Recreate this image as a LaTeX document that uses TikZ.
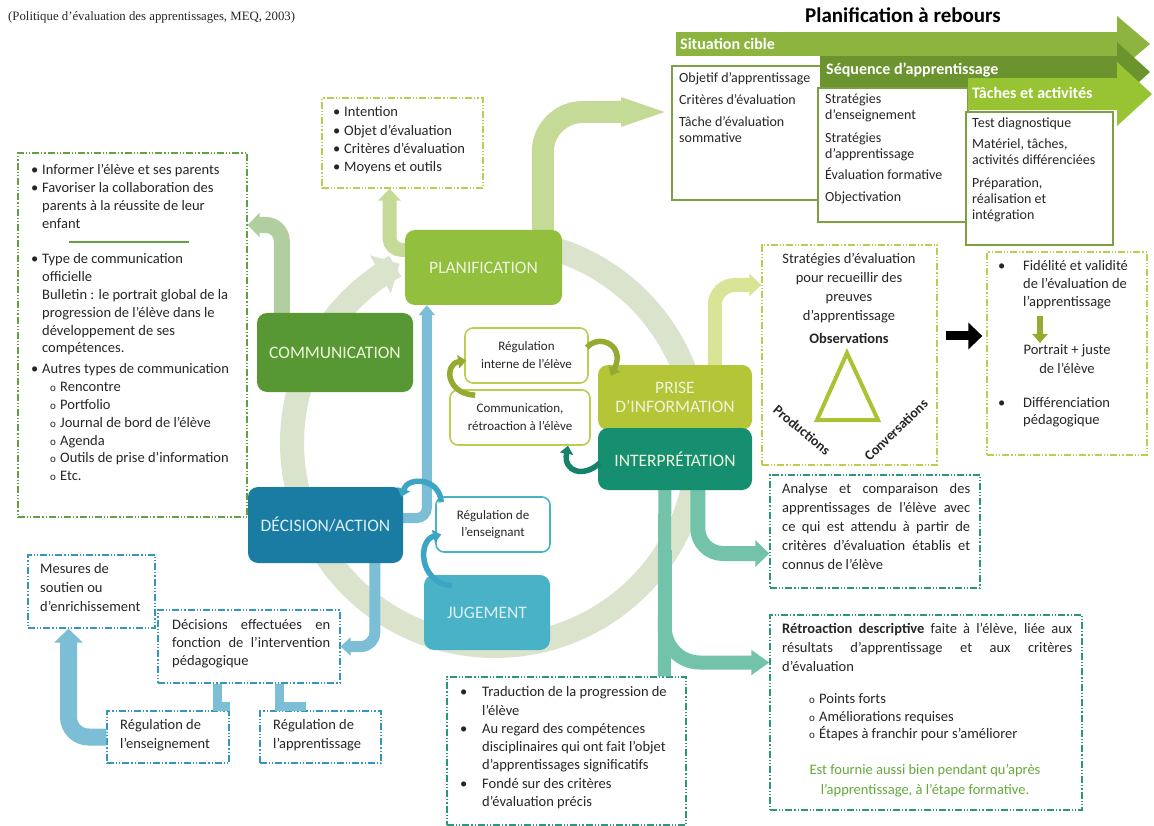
\documentclass[tikz,border=0pt]{standalone}
\usepackage{fontspec}
\setmainfont{Carlito}
\newfontfamily\citefont{Liberation Serif}
\usetikzlibrary{arrows.meta,calc}
\definecolor{txtc}{RGB}{38,38,38}
\definecolor{planc}{RGB}{146,191,62}
\definecolor{commc}{RGB}{88,152,52}
\definecolor{prisec}{RGB}{180,198,56}
\definecolor{interc}{RGB}{22,142,112}
\definecolor{decc}{RGB}{26,124,162}
\definecolor{jugc}{RGB}{74,178,198}
\definecolor{ringc}{RGB}{218,228,205}
\definecolor{lgA}{RGB}{196,218,150}
\definecolor{cmA}{RGB}{176,206,160}
\definecolor{blA}{RGB}{125,190,215}
\definecolor{tlA}{RGB}{115,195,170}
\definecolor{prA}{RGB}{218,228,150}
\definecolor{gbord}{RGB}{100,160,70}
\definecolor{ybord}{RGB}{190,205,80}
\definecolor{tbord}{RGB}{45,150,125}
\definecolor{bbord}{RGB}{55,150,190}
\definecolor{olv}{RGB}{150,170,50}
\definecolor{tealc}{RGB}{22,130,105}
\definecolor{bluec}{RGB}{60,165,195}
\definecolor{sitc}{RGB}{140,180,62}
\definecolor{seqc}{RGB}{108,148,46}
\definecolor{tacc}{RGB}{152,196,52}
\definecolor{pbord}{RGB}{125,160,65}
\definecolor{greentxt}{RGB}{100,170,60}
\definecolor{trianc}{RGB}{170,195,50}
\definecolor{ltxtg}{RGB}{238,245,220}
\definecolor{ltxtb}{RGB}{220,238,246}
\newcommand\fsz[2]{\fontsize{#1}{#2}\selectfont}
\newcommand\mybul{\makebox[11pt][l]{\textbullet}}
\newcommand\myind{\hspace*{11pt}}
\newcommand\mysub{\hspace*{19pt}\makebox[10pt][l]{\fsz{11}{11}o}}
\newcommand\mysubb{\makebox[10pt][l]{\fsz{11}{11}o}}
\begin{document}
\begin{tikzpicture}[x=1pt,y=-1pt,
  proc/.style={rounded corners=10pt, inner sep=0pt, align=center, font=\fsz{17.5}{19}},
  dbox/.style={draw=#1, line width=1.3pt, dash pattern=on 7pt off 2pt on 1.2pt off 2pt on 1.2pt off 2pt, inner sep=0pt},
  sbox/.style={draw=#1, line width=1.6pt, rounded corners=8pt, fill=white, align=center, font=\fsz{13}{18}, inner sep=0pt, text=txtc},
  txt/.style={anchor=north west, inner sep=0pt, align=left, text=txtc, font=\fsz{14.5}{#1}},
  band/.style={line width=#1},
  cur/.style={draw=#1, line width=5.5pt, -{Triangle[length=8pt,width=13pt]}},
  pbox/.style={draw=pbord, line width=1.8pt, fill=white, inner sep=0pt},
  blab/.style={anchor=west, text=white, inner sep=0pt, font=\bfseries\fsz{16}{18}},
  ptxt/.style={anchor=north west, inner sep=0pt, align=left, text=txtc, font=\fsz{14}{16}}
]
\useasboundingbox (0,0) rectangle (1154,826);
\fill[white] (0,0) rectangle (1154,826);

% header texts
\node[anchor=west, inner sep=0pt, font=\citefont\fsz{12.8}{14}, text=txtc] (cite) at (8,17) {(Politique d’évaluation des apprentissages, MEQ, 2003)};
\node[inner sep=0pt, font=\bfseries\fsz{21}{24}, text=black] (rebours) at (903,15) {Planification à rebours};

% planification a rebours
\fill[sitc] (676,32) rectangle (1117,56);
\fill[sitc] (1117,16) -- (1150,44) -- (1117,72) -- cycle;
\node[pbox, minimum width=150pt, minimum height=134pt] (sit) at (747,133) {};
\fill[seqc] (820,56) rectangle (1117,88);
\fill[seqc] (1117,42) -- (1150,72) -- (1117,102) -- cycle;
\node[pbox, minimum width=150pt, minimum height=134pt] (seq) at (893,155) {};
\fill[tacc] (968,78) rectangle (1117,110);
\fill[tacc] (1117,62) -- (1152,94) -- (1117,126) -- cycle;
\node[pbox, minimum width=147pt, minimum height=133pt] (tac) at (1039.5,178.5) {};
\node[blab] (sitL) at (680,44) {Situation cible};
\node[blab] (seqL) at (826,70) {Séquence d'apprentissage};
\node[blab] (tacL) at (972,93) {Tâches et activités};
\node[ptxt] (sitT) at (679,72) {Objetif d'apprentissage\\[6pt]Critères d'évaluation\\[6pt]Tâche d'évaluation\\sommative};
\node[ptxt] (seqT) at (825,94) {Stratégies\\d'enseignement\\[6.5pt]Stratégies\\d'apprentissage\\[5pt]Évaluation formative\\[6pt]Objectivation};
\node[ptxt] (tacT) at (972,118) {Test diagnostique\\[5pt]Matériel, tâches,\\activités différenciées\\[7pt]Préparation,\\réalisation et\\intégration};

% ring
\draw[ringc, line width=24pt, -{Triangle[length=22pt,width=42pt]}] plot[domain=-75:242, samples=150, smooth] ({495+203*cos(\x)},{443+203*sin(\x)});

% dash boxes
\node[dbox=gbord, minimum width=229pt, minimum height=364pt] (combox) at (132.5,335) {};
\node[dbox=ybord, minimum width=161pt, minimum height=90pt] (intent) at (402.5,143) {};
\node[dbox=ybord, minimum width=175pt, minimum height=220pt] (strat) at (849.5,355) {};
\node[dbox=ybord, minimum width=160pt, minimum height=203pt] (fid) at (1067,353.5) {};
\node[dbox=tbord, minimum width=210pt, minimum height=113pt] (analyse) at (875,531.5) {};
\node[dbox=tbord, minimum width=312pt, minimum height=195pt] (retro) at (926,712.5) {};
\node[dbox=tbord, minimum width=239pt, minimum height=148pt] (jugtext) at (566.5,751) {};
\node[dbox=bbord, minimum width=127pt, minimum height=73pt] (mesures) at (91.5,591.5) {};
\node[dbox=bbord, minimum width=182pt, minimum height=73pt] (decis) at (249,646.5) {};
\node[dbox=bbord, minimum width=122pt, minimum height=52pt] (regensb) at (168,737) {};
\node[dbox=bbord, minimum width=121pt, minimum height=52pt] (regapp) at (320.5,737) {};

% process box positions (invisible anchors for the connectors)
\path node[minimum width=157pt, minimum height=75pt, inner sep=0pt] (plan) at (483.5,267.5) {};
\path node[minimum width=156pt, minimum height=79pt, inner sep=0pt] (comm) at (335,352.5) {};
\path node[minimum width=154pt, minimum height=65pt, inner sep=0pt] (prise) at (675,397.5) {};
\path node[minimum width=154pt, minimum height=62pt, inner sep=0pt] (interp) at (675,459) {};
\path node[minimum width=155pt, minimum height=76pt, inner sep=0pt] (dec) at (325.5,525) {};
\path node[minimum width=126pt, minimum height=75pt, inner sep=0pt] (jug) at (487,612.5) {};

% thick band connectors
\draw[band=22pt, lgA, rounded corners=40pt, -{Triangle[length=50pt,width=25pt]}] ($(plan.north west)+(138,0)$) |- ($(sit.west)+(0,-21)$);
\draw[band=14pt, lgA, rounded corners=12pt, -{Triangle[length=12pt,width=22pt]}] ($(plan.north west)+(0,20)$) -| ($(intent.south)+(-13,0)$);
\draw[band=16pt, cmA, rounded corners=16pt, -{Triangle[length=12pt,width=24pt]}] ($(comm.north west)+(25,0)$) |- ($(combox.east)+(0,-110)$);
\draw[band=10pt, blA, rounded corners=10pt, -{Triangle[length=10pt,width=16pt]}] ($(dec.east)+(0,-7)$) -| ($(plan.south west)+(22,0)$);
\draw[band=11pt, blA, rounded corners=14pt, -{Triangle[length=10pt,width=18pt]}] ($(dec.south west)+(127,0)$) |- (decis.east);
\draw[band=9pt, blA] ($(decis.south west)+(60,0)$) |- ($(regensb.north east)+(0,-4)$);
\draw[band=9pt, blA] ($(decis.south west)+(122,0)$) |- ($(regapp.north west)+(47,-4)$);
\draw[band=17pt, blA, rounded corners=20pt, -{Triangle[length=14pt,width=28pt]}] (regensb.west) -| ($(mesures.south)+(-23,0)$);
\draw[band=13pt, tlA] ($(interp.south west)+(67,0)$) -- ($(jugtext.north west)+(218,0)$);
\draw[band=14pt, tlA, rounded corners=35pt, -{Triangle[length=18pt,width=24pt]}] ($(interp.south west)+(67,60)$) |- ($(retro.west)+(0,-50)$);
\draw[band=15pt, tlA, rounded corners=25pt, -{Triangle[length=14pt,width=26pt]}] ($(interp.south west)+(100,0)$) |- ($(analyse.west)+(0,22)$);
\draw[band=14pt, prA, rounded corners=20pt, -{Triangle[length=12pt,width=22pt]}] ($(prise.north west)+(117,0)$) |- ($(strat.west)+(0,-70)$);
\draw[line width=9pt, black, -{Triangle[length=14pt,width=26pt]}] ($(strat.east)+(8,-19)$) -- ($(fid.west)+(-4,-17.5)$);

% process boxes drawn over the bands
\node[proc, fill=planc, text=ltxtg, minimum width=157pt, minimum height=75pt] (planF) at (plan) {PLANIFICATION};
\node[proc, fill=commc, text=ltxtg, minimum width=156pt, minimum height=79pt] (commF) at (comm) {COMMUNICATION};
\node[proc, fill=prisec, text=ltxtg, minimum width=154pt, minimum height=65pt] (priseF) at (prise) {PRISE\\D'INFORMATION};
\node[proc, fill=interc, text=ltxtg, minimum width=154pt, minimum height=62pt] (interpF) at (interp) {INTERPRÉTATION};
\node[proc, fill=decc, text=ltxtb, minimum width=155pt, minimum height=76pt] (decF) at (dec) {DÉCISION/ACTION};
\node[proc, fill=jugc, text=ltxtb, minimum width=126pt, minimum height=75pt] (jugF) at (jug) {JUGEMENT};

% small rounded boxes
\node[sbox=ybord, minimum width=123pt, minimum height=55pt] (regint) at (526.5,355.5) {Régulation\\interne de l’élève};
\node[sbox=ybord, minimum width=140pt, minimum height=55pt] (commretro) at (520,417.5) {Communication,\\rétroaction à l’élève};
\node[sbox=jugc, minimum width=114pt, minimum height=55pt, font=\fsz{13}{17}] (regens) at (493,524.5) {Régulation de\\l’enseignant};

% small curved arrows
\draw[cur=olv] ($(regint.east)+(-2,-8)$) .. controls (600,333) and (626,346) .. ($(prise.north west)+(13,11)$);
\draw[cur=olv] ($(commretro.north west)+(26,6)$) .. controls (446,394) and (444,364) .. ($(regint.west)+(2,5)$);
\draw[cur=tealc] ($(interp.west)+(2,4)$) .. controls (584,478) and (563,472) .. ($(commretro.south)+(48,0)$);
\draw[cur=bluec] ($(regens.north west)+(6,6)$) .. controls (440,478) and (408,476) .. ($(dec.north east)+(-2,10)$);
\draw[cur=bluec] ($(jug.north west)+(28,11)$) .. controls (418,582) and (418,540) .. ($(regens.west)+(6,10)$);

% communication box text
\node[txt=17.8] (comT) at (31,164.5) {\mybul Informer l’élève et ses parents\\
\mybul Favoriser la collaboration des\\
\myind parents à la réussite de leur\\
\myind enfant\\[17.8pt]
\mybul Type de communication\\
\myind officielle\\
\myind Bulletin : le portrait global de la\\
\myind progression de l’élève dans le\\
\myind développement de ses\\
\myind compétences.\\[3.2pt]
\mybul Autres types de communication\\
\mysub Rencontre\\
\mysub Portfolio\\
\mysub Journal de bord de l’élève\\
\mysub Agenda\\
\mysub Outils de prise d’information\\
\mysub Etc.};
\draw[line width=2pt, gbord] ($(combox.north west)+(52,90)$) -- ($(combox.north west)+(172,90)$);

% intention box
\node[txt=18.3] (intT) at (333,106.5) {\mybul Intention\\\mybul Objet d’évaluation\\\mybul Critères d’évaluation\\\mybul Moyens et outils};

% strategies box
\node[anchor=north, inner sep=0pt, align=center, text=txtc, font=\fsz{14.5}{19}] (stratT) at (849,253) {Stratégies d’évaluation\\pour recueillir des\\preuves\\d’apprentissage\\[4pt]\textbf{Observations}};
\draw[trianc, line width=4pt, line join=miter] (847,353) -- (878,420) -- (817,420) -- cycle;
\node[rotate=-40, inner sep=0pt, text=txtc, font=\bfseries\fsz{14}{16}] (prod) at (802,430) {Productions};
\node[rotate=44, inner sep=0pt, text=txtc, font=\bfseries\fsz{14}{16}] (conv) at (896,430) {Conversations};

% fidelite box
\node[txt=18] (fidA) at (998,260.5) {\makebox[25pt][l]{\textbullet}Fidélité et validité\\\hspace*{25pt}de l’évaluation de\\\hspace*{25pt}l’apprentissage};
\coordinate (mA) at (1040,316);
\coordinate (mB) at (1040,343);
\draw[line width=6pt, olv, -{Triangle[length=9pt,width=15pt]}] (mA) -- (mB);
\node[anchor=north, inner sep=0pt, align=center, text=txtc, font=\fsz{14.5}{19}] (fidP) at (1067,344.5) {Portrait + juste\\de l’élève};
\node[txt=17] (fidD) at (998,397.5) {\makebox[25pt][l]{\textbullet}Différenciation\\\hspace*{25pt}pédagogique};

% analyse box
\node[txt=19] (anaT) at (782,483.5) {\makebox[188pt][s]{Analyse et comparaison des}\\
\makebox[188pt][s]{apprentissages de l’élève avec}\\
\makebox[188pt][s]{ce qui est attendu à partir de}\\
\makebox[188pt][s]{critères d’évaluation établis et}\\
connus de l’élève};

% retroaction box
\node[txt=19] (retT) at (782,623.5) {\makebox[290pt][s]{\textbf{Rétroaction descriptive} faite à l’élève, liée aux}\\
\makebox[290pt][s]{résultats d’apprentissage et aux critères}\\
d’évaluation};
\node[txt=17.5] (retL) at (809,693.5) {\mysubb Points forts\\\mysubb Améliorations requises\\\mysubb Étapes à franchir pour s’améliorer};
\node[anchor=north, inner sep=0pt, align=center, text=greentxt, font=\fsz{14.5}{20}] (retG) at (925,764.5) {Est fournie aussi bien pendant qu’après\\l’apprentissage, à l’étape formative.};

% jugement text box
\node[txt=18.3] (jugT) at (460,686.5) {\makebox[22pt][l]{\textbullet}Traduction de la progression de\\
\hspace*{22pt}l’élève\\
\makebox[22pt][l]{\textbullet}Au regard des compétences\\
\hspace*{22pt}disciplinaires qui ont fait l’objet\\
\hspace*{22pt}d’apprentissages significatifs\\
\makebox[22pt][l]{\textbullet}Fondé sur des critères\\
\hspace*{22pt}d’évaluation précis};

% decision side boxes
\node[txt=19] (mesT) at (40,563.5) {Mesures de\\soutien ou\\d’enrichissement};
\node[txt=18] (decT) at (172,619.5) {\makebox[158pt][s]{Décisions effectuées en}\\\makebox[158pt][s]{fonction de l’intervention}\\pédagogique};
\node[txt=19] (rgeT) at (120,719.5) {Régulation de\\l’enseignement};
\node[txt=19] (rgaT) at (273,719.5) {Régulation de\\l’apprentissage};
\end{tikzpicture}
\end{document}
